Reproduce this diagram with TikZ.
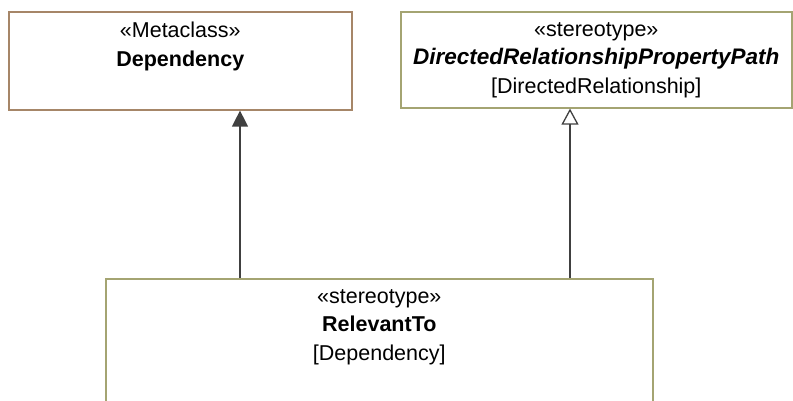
\documentclass[tikz,border=0pt]{standalone}
\usepackage{fontspec}
\setmainfont{Liberation Sans}
\usepackage{xcolor}
\usetikzlibrary{arrows.meta,positioning,calc}
\definecolor{metaline}{RGB}{166,134,104}
\definecolor{stereoline}{RGB}{164,164,114}
\definecolor{linkgray}{RGB}{64,64,64}

\begin{document}
\begin{tikzpicture}[x=1pt,y=-1pt,
  box/.style={draw,line width=1.6pt,fill=white,rectangle,inner sep=0pt,anchor=north west},
  boxtext/.style={anchor=north,align=center,inner sep=0pt,font=\fontsize{21.5}{28.5}\selectfont,yshift=-11pt},
  extends/.style={draw=linkgray,line width=1.3pt,-{Triangle[length=16pt,width=16pt]}},
  realizes/.style={draw=linkgray,line width=1.3pt,-{Triangle[open,length=16pt,width=17pt,fill=white]}}]
  \useasboundingbox (0,0) rectangle (793,400);
  \clip (0,0) rectangle (793,400);
  % Metaclass
  \node[box,draw=metaline,minimum width=343pt,minimum height=98pt] (dep) at (8,11) {};
  \node[boxtext] (deptext) at (dep.north) {«Metaclass»\\\textbf{Dependency}};
  % Stereotype above
  \node[box,draw=stereoline,minimum width=391pt,minimum height=96pt] (path) at (400,11) {};
  \node[boxtext] (pathtext) at (path.north) {«stereotype»\\\textbf{\itshape\fontsize{22.5}{28.5}\selectfont DirectedRelationshipPropertyPath}\\{[}DirectedRelationship{]}};
  % Stereotype below
  \node[box,draw=stereoline,minimum width=547pt,minimum height=160pt] (rel) at (105,278) {};
  \node[boxtext] (reltext) at (rel.north) {«stereotype»\\\textbf{RelevantTo}\\{[}Dependency{]}};
  % Links
  \draw[extends] (rel.north -| 240,0) -- (dep.south -| 240,0);
  \draw[realizes] (rel.north -| 570,0) -- (path.south -| 570,0);
\end{tikzpicture}
\end{document}
